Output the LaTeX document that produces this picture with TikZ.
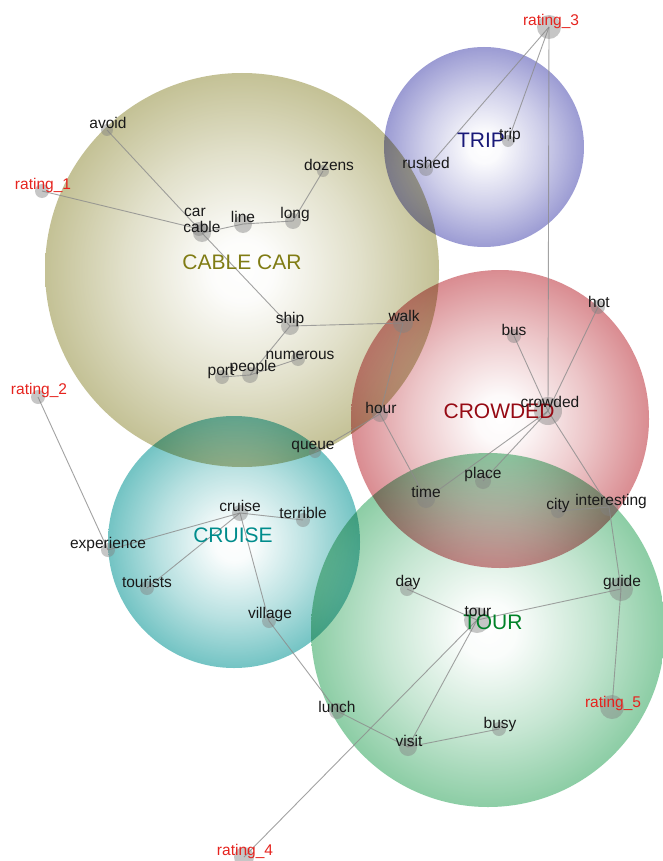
\documentclass[tikz,border=0pt]{standalone}
\usepackage{fontspec}
\setmainfont{Liberation Sans}
\pgfdeclarelayer{bg}
\pgfdeclarelayer{edges}
\pgfsetlayers{bg,edges,main}
\definecolor{olivec}{RGB}{160,156,85}
\definecolor{bluec}{RGB}{95,95,185}
\definecolor{redc}{RGB}{195,70,78}
\definecolor{tealc}{RGB}{30,160,160}
\definecolor{greenc}{RGB}{70,175,110}
\definecolor{olivet}{RGB}{128,124,20}
\definecolor{bluet}{RGB}{25,25,120}
\definecolor{redt}{RGB}{150,10,20}
\definecolor{tealt}{RGB}{0,140,140}
\definecolor{greent}{RGB}{0,130,40}
\definecolor{ratingt}{RGB}{230,35,30}
\definecolor{edgec}{RGB}{140,140,140}
\definecolor{dotc}{RGB}{130,130,130}
\pgfdeclareradialshading{sphOlive}{\pgfpoint{0bp}{0bp}}{color(0bp)=(white); color(4bp)=(white!96!olivec); color(15bp)=(olivec!50!white); color(25bp)=(olivec); color(50bp)=(olivec)}
\pgfdeclareradialshading{sphBlue}{\pgfpoint{0bp}{0bp}}{color(0bp)=(white); color(4bp)=(white!96!bluec); color(15bp)=(bluec!50!white); color(25bp)=(bluec); color(50bp)=(bluec)}
\pgfdeclareradialshading{sphRed}{\pgfpoint{0bp}{0bp}}{color(0bp)=(white); color(4bp)=(white!96!redc); color(15bp)=(redc!50!white); color(25bp)=(redc); color(50bp)=(redc)}
\pgfdeclareradialshading{sphTeal}{\pgfpoint{0bp}{0bp}}{color(0bp)=(white); color(4bp)=(white!96!tealc); color(15bp)=(tealc!50!white); color(25bp)=(tealc); color(50bp)=(tealc)}
\pgfdeclareradialshading{sphGreen}{\pgfpoint{0bp}{0bp}}{color(0bp)=(white); color(4bp)=(white!96!greenc); color(15bp)=(greenc!50!white); color(25bp)=(greenc); color(50bp)=(greenc)}
\tikzset{
  sphere/.style={shading=#1, fill opacity=0.62, blend mode=multiply},
  dot/.style={circle, fill=dotc, fill opacity=0.45, draw=none, inner sep=0pt, minimum size=#1},
  word/.style={inner sep=0pt, font=\fontsize{15.5}{16}\selectfont, text=black!90},
  rating/.style={inner sep=0pt, font=\fontsize{15.5}{16}\selectfont, text=ratingt},
  cluster/.style={inner sep=0pt, font=\fontsize{21}{22}\selectfont, text=#1},
  link/.style={draw=edgec, line width=0.9pt, opacity=0.8}
}
\begin{document}
\begin{tikzpicture}[x=1pt,y=-1pt]
\useasboundingbox (0,0) rectangle (662,861);
\begin{pgfonlayer}{bg}
\fill[white] (0,0) rectangle (662,861);
\shade[sphere=sphOlive] (242,270) circle (197pt);
\shade[sphere=sphBlue] (484,147) circle (100pt);
\shade[sphere=sphRed] (500,419) circle (149pt);
\shade[sphere=sphTeal] (234,542) circle (126pt);
\shade[sphere=sphGreen] (488,630) circle (177pt);
\end{pgfonlayer}

% dots
\node[dot=12pt] (avoid) at (107,130) {};
\node[dot=14pt] (rating1) at (42,191) {};
\node[dot=14pt] (car) at (199,229) {};
\node[dot=18pt] (cable) at (202,233) {};
\node[dot=18pt] (line) at (243,224) {};
\node[dot=16pt] (long) at (293,221) {};
\node[dot=12pt] (dozens) at (323,171) {};
\node[dot=18pt] (ship) at (290,326) {};
\node[dot=14pt] (numerous) at (298,359) {};
\node[dot=16pt] (people) at (250,375) {};
\node[dot=14pt] (port) at (222,377) {};
\node[dot=20pt] (walk) at (403,323) {};
\node[dot=16pt] (hour) at (380,414) {};
\node[dot=12pt] (queue) at (315,452) {};
\node[dot=14pt] (rushed) at (426,169) {};
\node[dot=12pt] (trip) at (508,141) {};
\node[dot=24pt] (rating3) at (549,27) {};
\node[dot=14pt] (hot) at (598,307) {};
\node[dot=14pt] (bus) at (514,336) {};
\node[dot=28pt] (crowded) at (548,411) {};
\node[dot=16pt] (place) at (483,481) {};
\node[dot=18pt] (time) at (426,499) {};
\node[dot=14pt] (city) at (558,511) {};
\node[dot=18pt] (interesting) at (609,507) {};
\node[dot=14pt] (rating2) at (38,397) {};
\node[dot=16pt] (cruise) at (240,513) {};
\node[dot=14pt] (terrible) at (303,520) {};
\node[dot=14pt] (experience) at (108,550) {};
\node[dot=14pt] (tourists) at (147,588) {};
\node[dot=14pt] (village) at (269,621) {};
\node[dot=14pt] (day) at (407,589) {};
\node[dot=26pt] (tour) at (477,620) {};
\node[dot=24pt] (guide) at (621,589) {};
\node[dot=24pt] (rating5) at (612,707) {};
\node[dot=16pt] (lunch) at (337,711) {};
\node[dot=14pt] (busy) at (499,729) {};
\node[dot=18pt] (visit) at (408,747) {};
\node[dot=20pt] (rating4) at (244,857) {};

% edges
\begin{pgfonlayer}{edges}
\foreach \a/\b in {rating1/car, avoid/car, cable/line, line/long, long/dozens,
  cable/ship, ship/walk, ship/people, people/numerous, people/port,
  walk/hour, hour/queue, hour/time, rating3/rushed, rating3/trip,
  rating3/crowded, crowded/bus, crowded/hot, crowded/time, crowded/place,
  crowded/interesting, city/interesting, interesting/guide,
  rating2/experience, cruise/experience, cruise/terrible, cruise/tourists,
  cruise/village, village/lunch, lunch/visit, visit/busy, visit/tour,
  tour/day, tour/guide, tour/rating4, guide/rating5}
  \draw[link] (\a.center) -- (\b.center);
\end{pgfonlayer}

% cluster labels
\node[cluster=olivet] (lcablecar) at (242,262) {CABLE CAR};
\node[cluster=bluet] (ltripc) at (481,140) {TRIP};
\node[cluster=redt] (lcrowdedc) at (499,411) {CROWDED};
\node[cluster=tealt] (lcruisec) at (233,535) {CRUISE};
\node[cluster=greent] (ltourc) at (493,622) {TOUR};

% word labels
\node[word] (lavoid) at (108,123) {avoid};
\node[rating] (lrating1) at (43,185) {rating\_1};
\node[word] (lcar) at (195,212) {car};
\node[word] (lcable) at (202,227) {cable};
\node[word] (lline) at (243,217) {line};
\node[word] (llong) at (295,214) {long};
\node[word] (ldozens) at (329,165) {dozens};
\node[word] (lship) at (290,319) {ship};
\node[word] (lnumerous) at (300,355) {numerous};
\node[word] (lpeople) at (253,367) {people};
\node[word] (lport) at (221,372) {port};
\node[word] (lwalk) at (404,316) {walk};
\node[word] (lhour) at (381,408) {hour};
\node[word] (lqueue) at (313,447) {queue};
\node[word] (lrushed) at (426,163) {rushed};
\node[word] (ltrip) at (510,135) {trip};
\node[rating] (lrating3) at (551,21) {rating\_3};
\node[word] (lhot) at (599,302) {hot};
\node[word] (lbus) at (514,330) {bus};
\node[word] (lcrowded) at (550,402) {crowded};
\node[word] (lplace) at (483,474) {place};
\node[word] (ltime) at (426,492) {time};
\node[word] (lcity) at (558,505) {city};
\node[word] (linteresting) at (611,501) {interesting};
\node[rating] (lrating2) at (39,390) {rating\_2};
\node[word] (lcruise) at (240,506) {cruise};
\node[word] (lterrible) at (303,513) {terrible};
\node[word] (lexperience) at (108,544) {experience};
\node[word] (ltourists) at (147,582) {tourists};
\node[word] (lvillage) at (270,614) {village};
\node[word] (lday) at (408,582) {day};
\node[word] (ltour) at (478,612) {tour};
\node[word] (lguide) at (622,582) {guide};
\node[rating] (lrating5) at (613,703) {rating\_5};
\node[word] (llunch) at (337,707) {lunch};
\node[word] (lbusy) at (500,724) {busy};
\node[word] (lvisit) at (409,741) {visit};
\node[rating] (lrating4) at (245,851) {rating\_4};
\end{tikzpicture}
\end{document}
